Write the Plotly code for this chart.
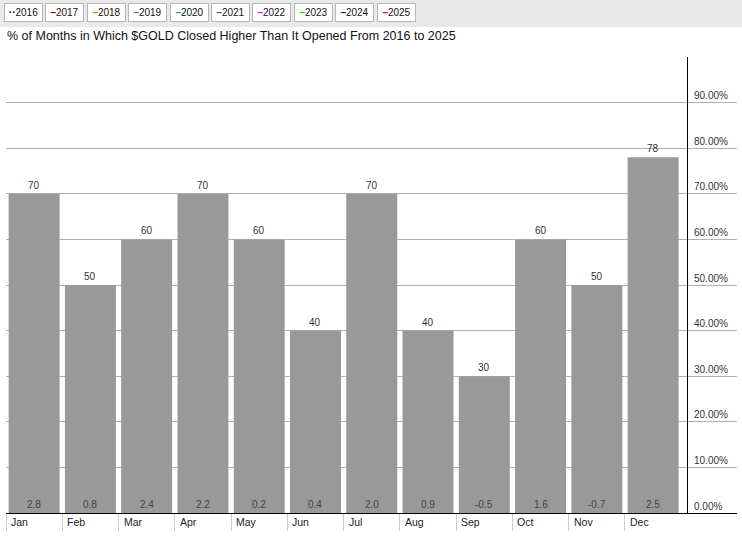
import plotly.graph_objects as go

months = ["Jan", "Feb", "Mar", "Apr", "May", "Jun", "Jul", "Aug", "Sep", "Oct", "Nov", "Dec"]
pct_higher = [70, 50, 60, 70, 60, 40, 70, 40, 30, 60, 50, 78]
avg_change = [2.8, 0.8, 2.4, 2.2, 0.2, 0.4, 2.0, 0.9, -0.5, 1.6, -0.7, 2.5]
years = ["2016", "2017", "2018", "2019", "2020", "2021", "2022", "2023", "2024", "2025"]
year_colors = ["#000080", "#8b0000", "#ff6a00", "#9b30ff", "#009a9a", "#555555",
               "#ff00ff", "#00dd00", "#3300cc", "#ff0000"]
y_ticks = [0, 10, 20, 30, 40, 50, 60, 70, 80, 90]
y_ticktext = [f"{v:.2f}%" for v in y_ticks]
title_text = "% of Months in Which $GOLD Closed Higher Than It Opened From 2016 to 2025"

W, H = 742, 536
ML, MR, MT, MB = 6, 5, 57, 23
PW = W - ML - MR
PH = H - MT - MB

xpos = list(range(len(months)))

fig = go.Figure()
fig.add_trace(go.Bar(
    x=xpos, y=pct_higher, marker=dict(color="#999999", line=dict(width=0)),
    width=0.906, hoverinfo="skip", showlegend=False,
))

annotations = []
for i, (m, v, c) in enumerate(zip(months, pct_higher, avg_change)):
    annotations.append(dict(x=i, y=v, xref="x", yref="y", text=f"{v:.0f}", showarrow=False,
                            yanchor="bottom", yshift=1,
                            font=dict(family="Arial", size=10, color="#333333")))
    annotations.append(dict(x=i, y=0, xref="x", yref="y", text=f"{c:.1f}", showarrow=False,
                            yanchor="bottom", yshift=1,
                            font=dict(family="Arial", size=10, color="#444444")))
    annotations.append(dict(x=i - 0.5, y=0, xref="x", yref="y", text=m, showarrow=False,
                            xanchor="left", yanchor="top", xshift=3, yshift=-1,
                            font=dict(family="Arial", size=10.5, color="#222222")))

# legend-like year boxes at top
for k, (yr, col) in enumerate(zip(years, year_colors)):
    cx = 23.5 + 41.4 * k
    mark = "··" if k == 0 else "–"
    annotations.append(dict(
        x=(cx - ML) / PW, y=(H - MB - 12.5) / PH, xref="paper", yref="paper",
        text=f"<span style='color:{col}'><b>{mark}</b></span>{yr}",
        showarrow=False, xanchor="center", yanchor="middle",
        width=35, height=15, bgcolor="#ffffff", bordercolor="#b5b5b5",
        borderwidth=1, borderpad=1, align="center",
        font=dict(family="Arial", size=10, color="#111111")))

shapes = [dict(type="rect", xref="paper", yref="paper",
               x0=-ML / PW - 0.01, x1=1 + MR / PW + 0.01,
               y0=(H - MB - 27) / PH, y1=(H - MB) / PH + 0.01,
               fillcolor="#e9e9e9", line=dict(width=0), layer="below")]

fig.update_layout(
    width=W, height=H,
    margin=dict(l=ML, r=MR, t=MT, b=MB, pad=0, autoexpand=False),
    paper_bgcolor="#ffffff", plot_bgcolor="#ffffff",
    bargap=0.094,
    title=dict(text=title_text, xref="container", yref="container",
               x=7 / W, xanchor="left", y=1 - 36 / H, yanchor="middle",
               automargin=False,
               font=dict(family="Arial", size=12.5, color="#111111")),
    xaxis=dict(range=[-0.5, PW / 56.27 - 0.5], tickmode="array",
               tickvals=[i - 0.5 for i in xpos], ticktext=["" for _ in xpos],
               ticks="outside", ticklen=17, tickcolor="#cccccc", tickwidth=1,
               showgrid=False, zeroline=False, showline=True, linecolor="#000000",
               linewidth=1, fixedrange=True, automargin=False),
    yaxis=dict(range=[0, 100], tickmode="array", tickvals=y_ticks, ticktext=y_ticktext,
               side="right", anchor="free",
               position=(687 - ML) / PW, showline=True, linecolor="#000000",
               linewidth=1, showgrid=True, gridcolor="#b0b0b0", gridwidth=1,
               zeroline=False, ticks="", ticklabelshift=-7, ticklabelstandoff=4,
               automargin=False, fixedrange=True,
               tickfont=dict(family="Arial", size=10, color="#333333")),
    annotations=annotations,
    shapes=shapes,
    showlegend=False,
)

fig.write_html("out.html", config={"displayModeBar": False},
               post_script="document.body.style.margin='0';document.body.style.overflow='hidden';")
